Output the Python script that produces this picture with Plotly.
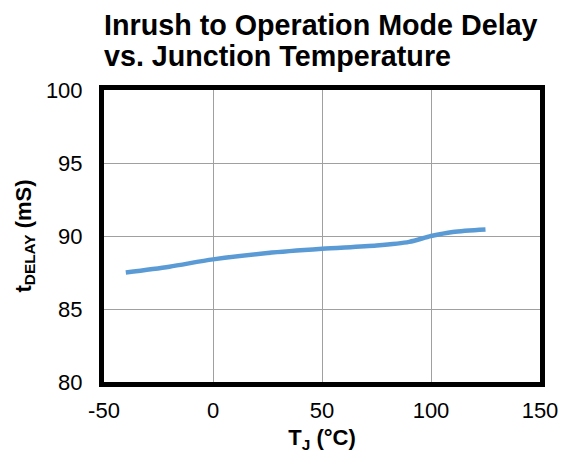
import plotly.graph_objects as go

temps = [-40, -20, 0, 25, 50, 75, 90, 100, 110, 125]
delay = [87.5, 87.9, 88.4, 88.83, 89.12, 89.35, 89.6, 90.0, 90.28, 90.45]

x_ticks = [-50, 0, 50, 100, 150]
y_ticks = [80, 85, 90, 95, 100]
title_lines = ["Inrush to Operation Mode Delay", "vs. Junction Temperature"]

W, H = 562, 452
L, R, T, B = 95.3, 26.7, 82.0, 72.8
ph = H - T - B

def py(fig_y):
    # convert a figure pixel y (from top) into paper coordinates
    return 1 + (T - fig_y) / ph

fig = go.Figure()
fig.add_trace(go.Scatter(
    x=temps, y=delay, mode="lines",
    line=dict(color="#5b9bd5", width=4.5, shape="spline", smoothing=0.8),
    showlegend=False,
))

font = "Liberation Sans, Arial, sans-serif"
title_y = [16, 47.5]
for txt, yy in zip(title_lines, title_y):
    fig.add_annotation(
        text=f"<b>{txt}</b>", xref="paper", yref="paper",
        x=(93.5 - L) / (W - L - R), xanchor="left",
        y=py(yy), yanchor="middle", showarrow=False,
        font=dict(size=28.7, family=font, color="black"),
    )

fig.update_layout(
    width=W, height=H,
    margin=dict(l=L, r=R, t=T, b=B, pad=0),
    paper_bgcolor="white", plot_bgcolor="white",
    font=dict(family=font, color="black"),
)
fig.update_xaxes(
    range=[-50, 150], tickvals=x_ticks, ticktext=[str(v) for v in x_ticks],
    showgrid=True, gridcolor="#a0a0a0", gridwidth=1,
    showline=True, linecolor="black", linewidth=5, mirror=True,
    ticks="", tickfont=dict(size=22), zeroline=False,
    ticklabelstandoff=5,
    title=dict(text="<b>T<sub>J</sub> (°C)</b>", font=dict(size=22), standoff=9),
)
fig.update_yaxes(
    range=[80, 100], tickvals=y_ticks, ticktext=[str(v) for v in y_ticks],
    showgrid=True, gridcolor="#a0a0a0", gridwidth=1,
    showline=True, linecolor="black", linewidth=5, mirror=True,
    ticks="", tickfont=dict(size=22), zeroline=False,
    ticklabelstandoff=12,
    title=dict(text="<b>t<sub>DELAY</sub> (mS)</b>", font=dict(size=22), standoff=10),
)
fig.write_html("out.html")
